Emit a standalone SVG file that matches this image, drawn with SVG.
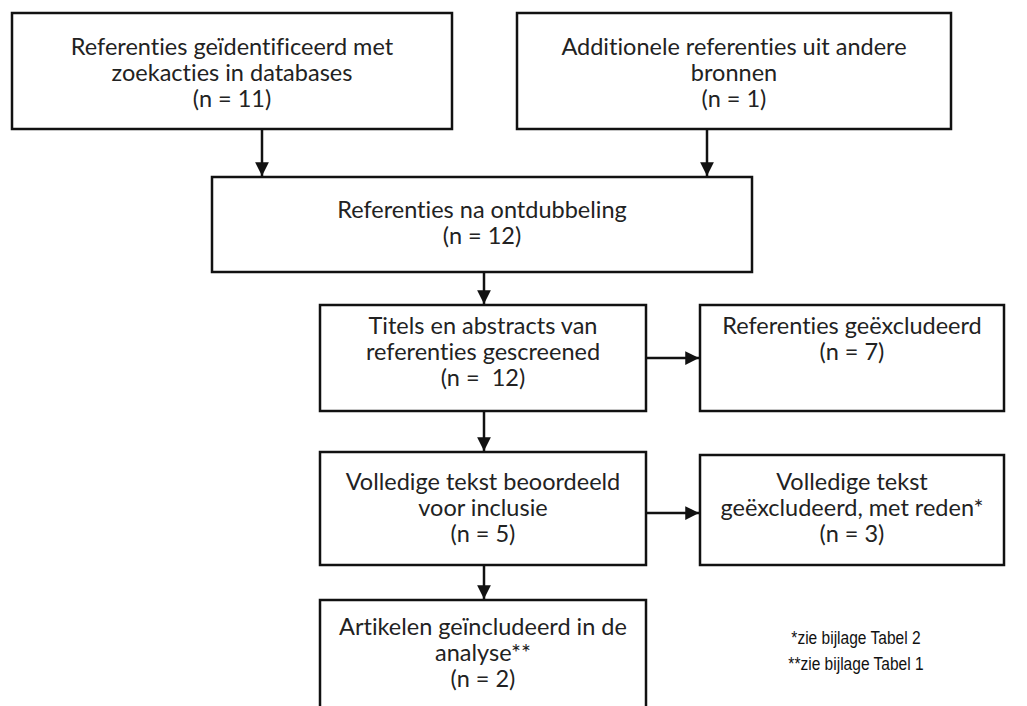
<svg xmlns="http://www.w3.org/2000/svg" width="1027" height="706" viewBox="0 0 1027 706">
<style>
.box{fill:#fff;stroke:#111;stroke-width:2.5}
.t{font-family:Lato,"Liberation Sans",sans-serif;font-size:23.5px;fill:#222;text-anchor:middle;font-variant-ligatures:none}
.n{font-family:"Liberation Sans",Arial,sans-serif;font-size:18.5px;fill:#111;text-anchor:middle}
.c{stroke:#111;stroke-width:2.5;fill:none;marker-end:url(#ah)}
</style>
<defs>
<marker id="ah" viewBox="0 0 10 10" refX="10" refY="5" markerWidth="5.5" markerHeight="5.5" markerUnits="strokeWidth" orient="auto">
<path d="M0,0 L10,5 L0,10 z" fill="#111"/>
</marker>
</defs>
<rect width="1027" height="706" fill="#fff"/>
<g id="connectors">
<line class="c" x1="262" y1="129" x2="262" y2="176"/>
<line class="c" x1="707" y1="129" x2="707" y2="176"/>
<line class="c" x1="484" y1="272" x2="484" y2="304"/>
<line class="c" x1="646" y1="358" x2="699" y2="358"/>
<line class="c" x1="484" y1="411" x2="484" y2="451"/>
<line class="c" x1="646" y1="513" x2="699" y2="513"/>
<line class="c" x1="484" y1="565" x2="484" y2="599"/>
</g>
<g id="n1">
<rect class="box" x="12" y="13" width="440" height="116"/>
<text class="t" x="232" y="55">Referenties geïdentificeerd met</text>
<text class="t" x="232" y="81">zoekacties in databases</text>
<text class="t" x="232" y="107">(n = 11)</text>
</g>
<g id="n2">
<rect class="box" x="517" y="13" width="434" height="116"/>
<text class="t" x="734" y="55">Additionele referenties uit andere</text>
<text class="t" x="734" y="81">bronnen</text>
<text class="t" x="734" y="107">(n = 1)</text>
</g>
<g id="n3">
<rect class="box" x="212" y="177" width="540" height="95"/>
<text class="t" x="482" y="218">Referenties na ontdubbeling</text>
<text class="t" x="482" y="244">(n = 12)</text>
</g>
<g id="n4">
<rect class="box" x="320" y="305" width="326" height="106"/>
<text class="t" x="483" y="334">Titels en abstracts van</text>
<text class="t" x="483" y="360">referenties gescreened</text>
<text class="t" x="483" y="386" xml:space="preserve">(n =  12)</text>
</g>
<g id="n5">
<rect class="box" x="700" y="305" width="304" height="106"/>
<text class="t" x="852" y="334">Referenties geëxcludeerd</text>
<text class="t" x="852" y="360">(n = 7)</text>
</g>
<g id="n6">
<rect class="box" x="320" y="452" width="326" height="113"/>
<text class="t" x="483" y="490">Volledige tekst beoordeeld</text>
<text class="t" x="483" y="516">voor inclusie</text>
<text class="t" x="483" y="542">(n = 5)</text>
</g>
<g id="n7">
<rect class="box" x="700" y="455" width="304" height="110"/>
<text class="t" x="852" y="490">Volledige tekst</text>
<text class="t" x="852" y="516">geëxcludeerd, met reden*</text>
<text class="t" x="852" y="542">(n = 3)</text>
</g>
<g id="n8">
<rect class="box" x="320" y="600" width="326" height="120"/>
<text class="t" x="483" y="635">Artikelen geïncludeerd in de</text>
<text class="t" x="483" y="661">analyse**</text>
<text class="t" x="483" y="687">(n = 2)</text>
</g>
<g id="notes">
<text class="n" x="856" y="644" transform="translate(856 0) scale(0.84 1) translate(-856 0)">*zie bijlage Tabel 2</text>
<text class="n" x="856" y="670" transform="translate(856 0) scale(0.84 1) translate(-856 0)">**zie bijlage Tabel 1</text>
</g>
</svg>
